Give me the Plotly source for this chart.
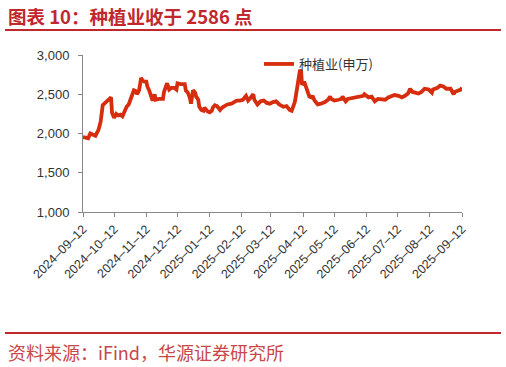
import pandas as pd
import plotly.graph_objects as go

start_date = "2024-09-12"
day_offsets = [0, 3, 5, 7, 10, 12, 15, 17, 19, 22, 25, 27, 28, 30, 32, 34, 36, 38, 40, 42, 44, 46, 48, 49, 51, 52,
               54, 56, 57, 59, 61, 62, 64, 66, 67, 69, 70, 73, 77, 78, 80, 81, 83, 85, 88, 90, 91, 94, 98, 99, 101,
               103, 104, 106, 108, 109, 111, 112, 114, 116, 117, 119, 120, 122, 124, 125, 127, 129, 130, 132, 134,
               136, 139, 143, 146, 148, 151, 154, 157, 159, 161, 164, 165, 167, 168, 171, 174, 177, 180, 183, 186,
               189, 193, 196, 199, 201, 202, 204, 205, 207, 209, 210, 211, 213, 214, 216, 217, 218, 220, 221, 223,
               224, 226, 229, 233, 236, 238, 239, 242, 246, 249, 250, 253, 255, 259, 263, 267, 270, 271, 275, 278,
               281, 284, 288, 291, 294, 297, 300, 304, 307, 310, 313, 315, 317, 320, 323, 326, 329, 333, 336, 337,
               341, 344, 347, 350, 354, 357, 358, 362, 364, 365]
index_values = [1955, 1945, 1940, 2000, 1975, 1970, 2050, 2150, 2360, 2400, 2440, 2460, 2260, 2200, 2250, 2230, 2240,
                2220, 2280, 2340, 2370, 2450, 2530, 2550, 2540, 2500, 2550, 2710, 2680, 2660, 2660, 2600, 2540, 2460,
                2420, 2500, 2430, 2440, 2440, 2530, 2590, 2640, 2560, 2580, 2580, 2560, 2640, 2630, 2630, 2550, 2520,
                2450, 2380, 2550, 2520, 2470, 2430, 2340, 2300, 2290, 2330, 2300, 2280, 2270, 2290, 2330, 2360, 2350,
                2330, 2300, 2330, 2350, 2370, 2380, 2400, 2420, 2420, 2430, 2480, 2420, 2450, 2500, 2430, 2400, 2370,
                2410, 2420, 2390, 2380, 2400, 2410, 2370, 2340, 2350, 2300, 2290, 2330, 2400, 2480, 2620, 2810, 2790,
                2620, 2660, 2620, 2550, 2490, 2470, 2460, 2480, 2420, 2400, 2370, 2380, 2400, 2430, 2470, 2440, 2420,
                2430, 2440, 2470, 2410, 2440, 2450, 2460, 2470, 2480, 2500, 2460, 2470, 2410, 2440, 2440, 2430, 2460,
                2470, 2490, 2480, 2460, 2480, 2510, 2570, 2530, 2520, 2510, 2530, 2570, 2560, 2520, 2560, 2580, 2610,
                2600, 2570, 2570, 2500, 2530, 2550, 2560, 2586]

series_name = "种植业(申万)"
tick_dates = ["2024-09-12", "2024-10-12", "2024-11-12", "2024-12-12", "2025-01-12", "2025-02-12", "2025-03-12",
              "2025-04-12", "2025-05-12", "2025-06-12", "2025-07-12", "2025-08-12", "2025-09-12"]
tick_labels = [d.replace("-", "–") for d in tick_dates]
y_ticks = [1000, 1500, 2000, 2500, 3000]

title_text = "图表 10：种植业收于 2586 点"
source_text = "资料来源：iFind，华源证券研究所"

dates = pd.Timestamp(start_date) + pd.to_timedelta(day_offsets, unit="D")

RED = "#C0282E"
LINE = "#D62D0E"

fig = go.Figure()
fig.add_trace(go.Scatter(x=dates, y=index_values, mode="lines", name=series_name,
                         line=dict(color=LINE, width=3.8), showlegend=True))

L, R, T, B = 83, 44, 55, 155
W, H = 506, 367
pw, ph = W - L - R, H - T - B

def px_x(p):
    return (p - L) / pw

def px_y(p):
    return (H - B - p) / ph

fig.update_layout(
    width=W, height=H,
    margin=dict(l=L, r=R, t=T, b=B, pad=0),
    paper_bgcolor="white", plot_bgcolor="white",
    font=dict(family="Liberation Sans, Arial, sans-serif", color="#333333", size=13),
    showlegend=True,
    legend=dict(x=px_x(259), y=px_y(64), xanchor="left", yanchor="middle", bgcolor="rgba(0,0,0,0)",
                font=dict(family="Noto Sans CJK SC, Liberation Sans, sans-serif", size=13, color="#333333")),
    xaxis=dict(type="date", range=[tick_dates[0], tick_dates[-1]], tickvals=tick_dates, ticktext=tick_labels,
               tickangle=-45, showgrid=False, zeroline=False, showline=True, linecolor="#888888", linewidth=1,
               ticks="outside", ticklen=4, tickcolor="#888888", tickfont=dict(size=12.5, color="#333333"),
               automargin=False),
    yaxis=dict(range=[1000, 3000], tickvals=y_ticks, tickformat=",", showgrid=False, zeroline=False,
               showline=True, linecolor="#888888", linewidth=1, ticks="outside", ticklen=4, tickcolor="#888888",
               tickfont=dict(size=13, color="#333333"), ticklabelstandoff=6, automargin=False),
    shapes=[
        dict(type="line", xref="paper", yref="paper", x0=px_x(5), x1=px_x(501), y0=px_y(30), y1=px_y(30),
             line=dict(color=RED, width=2)),
        dict(type="line", xref="paper", yref="paper", x0=px_x(5), x1=px_x(501), y0=px_y(333), y1=px_y(333),
             line=dict(color=RED, width=2)),
    ],
    annotations=[
        dict(text="<b>" + title_text + "</b>", xref="paper", yref="paper", x=px_x(6), y=px_y(16),
             xanchor="left", yanchor="middle", showarrow=False,
             font=dict(family="Noto Sans CJK SC, sans-serif", size=18.5, color=RED)),
        dict(text=source_text, xref="paper", yref="paper", x=px_x(6), y=px_y(352),
             xanchor="left", yanchor="middle", showarrow=False,
             font=dict(family="Noto Sans CJK SC, sans-serif", size=18, color="#C8474A")),
    ],
)

fig.write_html("out.html", config={"displayModeBar": False},
               post_script="document.body.style.margin='0';document.body.style.overflow='hidden';")
